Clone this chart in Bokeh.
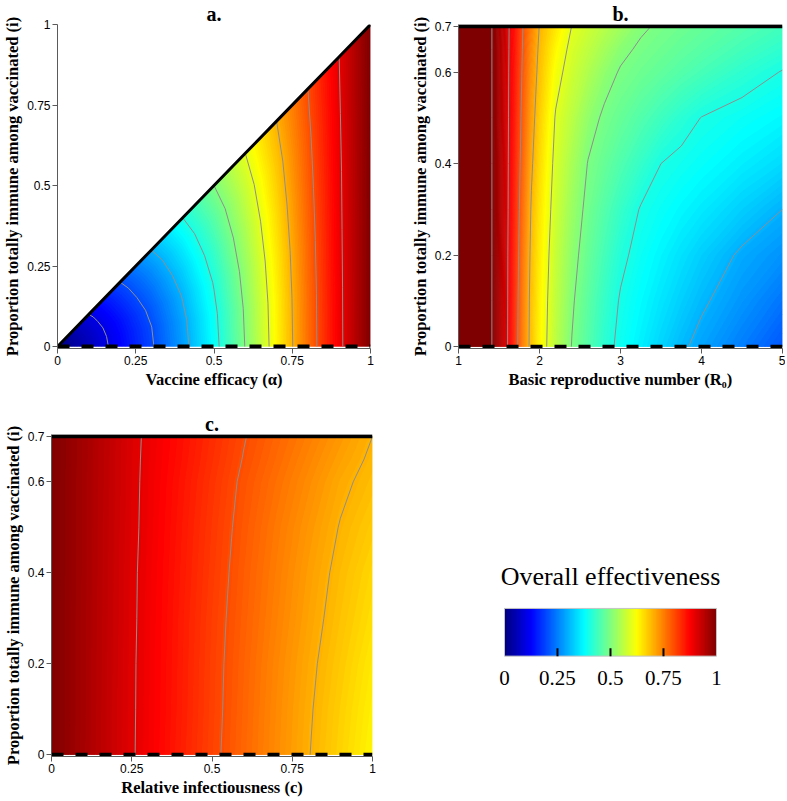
import numpy as np
from bokeh.plotting import figure
from bokeh.layouts import column, row
from bokeh.models import (LinearColorMapper, FixedTicker, Range1d, PrintfTickFormatter)
from bokeh.core.properties import value
from bokeh.palettes import interp_palette
from bokeh.embed import file_html
from bokeh.resources import INLINE

# ------------------------------------------------------------------ data
# Panel a: overall effectiveness vs vaccine efficacy (alpha) and i (i <= alpha).
# Rows are read along lines i = (i/alpha) * alpha.
alpha_a = [0.0, 0.1, 0.2, 0.3, 0.4, 0.5, 0.6, 0.7, 0.8, 0.9, 1.0]
i_over_alpha_a = [0.0, 0.2, 0.4, 0.6, 0.8, 1.0]
eff_a = [
    [0.0, 0.060, 0.124, 0.193, 0.280, 0.380, 0.502, 0.631, 0.765, 0.887, 1.0],
    [0.0, 0.062, 0.129, 0.199, 0.287, 0.387, 0.508, 0.635, 0.767, 0.888, 1.0],
    [0.0, 0.068, 0.139, 0.214, 0.304, 0.404, 0.522, 0.645, 0.772, 0.890, 1.0],
    [0.0, 0.077, 0.156, 0.238, 0.330, 0.430, 0.543, 0.660, 0.780, 0.892, 1.0],
    [0.0, 0.087, 0.176, 0.266, 0.362, 0.462, 0.569, 0.678, 0.789, 0.896, 1.0],
    [0.0, 0.100, 0.200, 0.300, 0.400, 0.500, 0.600, 0.700, 0.800, 0.900, 1.0],
]

# Panel b: overall effectiveness vs R0 and i
r0_b = [1.0, 1.41, 1.5, 1.6, 1.7, 1.8, 1.9, 2.0, 2.2, 2.4, 2.6, 2.8, 3.0, 3.25, 3.5, 3.75, 4.0, 4.5, 5.0]
i_b = [0.0, 0.1, 0.2, 0.3, 0.4, 0.5, 0.6, 0.65, 0.7]
eff_b = [
    [1.0, 1.0, 0.955, 0.905, 0.825, 0.746, 0.681, 0.633, 0.559, 0.498, 0.458, 0.418, 0.388, 0.361, 0.334, 0.308, 0.286, 0.248, 0.210],
    [1.0, 1.0, 0.955, 0.906, 0.828, 0.750, 0.683, 0.636, 0.564, 0.506, 0.466, 0.428, 0.396, 0.373, 0.351, 0.329, 0.307, 0.273, 0.240],
    [1.0, 1.0, 0.956, 0.907, 0.832, 0.756, 0.688, 0.642, 0.570, 0.516, 0.477, 0.443, 0.410, 0.385, 0.366, 0.347, 0.328, 0.293, 0.270],
    [1.0, 1.0, 0.957, 0.909, 0.838, 0.764, 0.695, 0.650, 0.578, 0.528, 0.487, 0.458, 0.429, 0.397, 0.383, 0.369, 0.356, 0.328, 0.300],
    [1.0, 1.0, 0.957, 0.910, 0.843, 0.773, 0.707, 0.661, 0.586, 0.541, 0.498, 0.476, 0.454, 0.427, 0.400, 0.390, 0.380, 0.360, 0.340],
    [1.0, 1.0, 0.958, 0.911, 0.848, 0.781, 0.719, 0.672, 0.596, 0.558, 0.519, 0.492, 0.476, 0.456, 0.436, 0.416, 0.399, 0.384, 0.370],
    [1.0, 1.0, 0.958, 0.912, 0.852, 0.789, 0.731, 0.685, 0.617, 0.578, 0.548, 0.518, 0.496, 0.483, 0.471, 0.458, 0.445, 0.420, 0.398],
    [1.0, 1.0, 0.958, 0.913, 0.855, 0.793, 0.738, 0.691, 0.630, 0.587, 0.562, 0.537, 0.511, 0.493, 0.483, 0.472, 0.462, 0.441, 0.420],
    [1.0, 1.0, 0.959, 0.914, 0.858, 0.797, 0.746, 0.698, 0.648, 0.599, 0.577, 0.555, 0.534, 0.507, 0.493, 0.484, 0.475, 0.458, 0.440],
]

# Panel c: overall effectiveness vs relative infectiousness c and i
c_c = [0.0, 0.1, 0.2, 0.3, 0.4, 0.5, 0.6, 0.7, 0.8, 0.9, 1.0]
i_c = [0.0, 0.1, 0.2, 0.3, 0.4, 0.5, 0.6, 0.65, 0.7]
eff_c = [
    [1.0, 0.961, 0.923, 0.885, 0.847, 0.810, 0.774, 0.738, 0.702, 0.667, 0.632],
    [1.0, 0.962, 0.923, 0.886, 0.849, 0.812, 0.776, 0.740, 0.705, 0.671, 0.638],
    [1.0, 0.962, 0.924, 0.886, 0.850, 0.813, 0.778, 0.743, 0.709, 0.677, 0.645],
    [1.0, 0.962, 0.925, 0.887, 0.851, 0.815, 0.781, 0.748, 0.715, 0.684, 0.655],
    [1.0, 0.963, 0.925, 0.888, 0.853, 0.818, 0.784, 0.752, 0.720, 0.690, 0.663],
    [1.0, 0.963, 0.926, 0.890, 0.855, 0.821, 0.788, 0.757, 0.727, 0.698, 0.675],
    [1.0, 0.963, 0.927, 0.891, 0.858, 0.825, 0.793, 0.765, 0.737, 0.708, 0.688],
    [1.0, 0.964, 0.927, 0.892, 0.861, 0.829, 0.798, 0.771, 0.744, 0.717, 0.694],
    [1.0, 0.964, 0.928, 0.893, 0.863, 0.832, 0.802, 0.776, 0.751, 0.725, 0.700],
]

levels_a = [0.1, 0.2, 0.3, 0.4, 0.5, 0.6, 0.7, 0.8, 0.9]
levels_b = [0.3, 0.4, 0.5, 0.6, 0.7, 0.8, 0.9, 0.999]
levels_c = [0.7, 0.8, 0.9]

ticks_unit = [0, 0.25, 0.5, 0.75, 1]
ticks_i07 = [0, 0.2, 0.4, 0.6, 0.7]
ticks_r0 = [1, 2, 3, 4, 5]
cbar_ticks = [0, 0.25, 0.5, 0.75, 1]
cbar_inner_ticks = [0.25, 0.5, 0.75]
cbar_title = "Overall effectiveness"
cbar_ramp = np.linspace(0.0, 1.0, 256)   # colour-scale ramp of the legend

# ------------------------------------------------------------------ style
JET = ["#00007F", "#0000FF", "#007FFF", "#00FFFF", "#7FFF7F",
       "#FFFF00", "#FF7F00", "#FF0000", "#7F0000"]
NBANDS = 160
# two staggered sets of colour bands (the second hides the seams of the first)
step = 1.0 / NBANDS
levels_fill_1 = [k * step for k in range(NBANDS + 1)]
levels_fill_1[0] = -0.001
levels_fill_1[-1] = 1.001
pal_fill_1 = list(interp_palette(JET, NBANDS))
levels_fill_2 = [-0.001] + [(k + 0.5) * step for k in range(NBANDS)] + [1.001]
pal_fill_2 = list(interp_palette(JET, NBANDS + 1))
mapper = LinearColorMapper(palette=list(interp_palette(JET, 256)), low=0, high=1)

SERIF = "Liberation Serif"
SANS = "Liberation Sans"
AXIS_GREY = "#5a5a5a"
CONTOUR_GREY = "#8f8f8f"


def make_panel(width, height, xr, yr, bl, br, bt, bb, title):
    p = figure(width=width, height=height, x_range=Range1d(*xr), y_range=Range1d(*yr),
               output_backend="svg", toolbar_location=None,
               min_border_left=bl, min_border_right=br,
               min_border_top=bt, min_border_bottom=bb)
    p.outline_line_color = None
    p.xgrid.visible = False
    p.ygrid.visible = False
    p.title.text = title
    p.title.align = "center"
    p.title.text_font = SERIF
    p.title.text_font_style = "bold"
    p.title.text_font_size = "20px"
    p.title.text_color = "black"
    p.title.standoff = 0
    return p


def style_axes(p, xticks, yticks, xlabel, ylabel):
    p.xaxis.ticker = FixedTicker(ticks=xticks)
    p.yaxis.ticker = FixedTicker(ticks=yticks)
    p.xaxis.axis_label = xlabel
    p.yaxis.axis_label = ylabel
    for ax in list(p.xaxis) + list(p.yaxis):
        ax.formatter = PrintfTickFormatter(format="%g")
        ax.axis_line_color = AXIS_GREY
        ax.major_tick_line_color = AXIS_GREY
        ax.minor_tick_line_color = None
        ax.major_tick_out = 5
        ax.major_tick_in = 0
        ax.major_label_text_font = SANS
        ax.major_label_text_font_size = "12px"
        ax.major_label_text_color = "black"
        ax.major_label_standoff = 2
        ax.axis_label_text_font = SERIF
        ax.axis_label_text_font_style = "bold"
        ax.axis_label_text_font_size = "16.5px"
        ax.axis_label_text_color = "black"
        ax.axis_label_standoff = 2


def heat(p, x, y, z, line_levels):
    for lv, pal in ((levels_fill_1, pal_fill_1), (levels_fill_2, pal_fill_2)):
        r = p.contour(x, y, z, lv, fill_color=pal)
        r.fill_renderer.glyph.line_color = None
    p.contour(x, y, z, line_levels, line_color=CONTOUR_GREY, line_width=1)


# ------------------------------------------------------------------ panel a
pa = make_panel(390, 392, (0, 1), (-0.006, 1.0), 52, 20, 10, 44, "a.")
A = np.array([alpha_a for _ in i_over_alpha_a], dtype=float)
I = np.array([[f * a for a in alpha_a] for f in i_over_alpha_a], dtype=float)
heat(pa, A, I, np.array(eff_a), levels_a)
pa.line(alpha_a, [a * i_over_alpha_a[-1] for a in alpha_a], line_color="black", line_width=3)
pa.line([alpha_a[0], alpha_a[-1]], [i_over_alpha_a[0]] * 2, line_color="black",
        line_width=4, line_dash="12 12")
style_axes(pa, ticks_unit, ticks_unit, "Vaccine efficacy (α)",
           "Proportion totally immune among vaccinated (i)")

# ------------------------------------------------------------------ panel b
pb = make_panel(395, 392, (1, 5), (-0.004, 0.704), 68, 3, 10, 44, "b.")
heat(pb, np.array(r0_b), np.array(i_b), np.array(eff_b), levels_b)
pb.line([r0_b[0], r0_b[-1]], [i_b[-1]] * 2, line_color="black", line_width=4)
pb.line([r0_b[0], r0_b[-1]], [i_b[0]] * 2, line_color="black", line_width=4, line_dash="12 12")
style_axes(pb, ticks_r0, ticks_i07, "Basic reproductive number (R₀)",
           "Proportion totally immune among vaccinated (i)")

# ------------------------------------------------------------------ panel c
pc = make_panel(390, 407, (0, 1), (-0.004, 0.704), 48, 18, 42, 41, "c.")
heat(pc, np.array(c_c), np.array(i_c), np.array(eff_c), levels_c)
pc.line([c_c[0], c_c[-1]], [i_c[-1]] * 2, line_color="black", line_width=4)
pc.line([c_c[0], c_c[-1]], [i_c[0]] * 2, line_color="black", line_width=4, line_dash="12 12")
style_axes(pc, ticks_unit, ticks_i07, "Relative infectiousness (c)",
           "Proportion totally immune among vaccinated (i)")

# ------------------------------------------------------------------ colour bar
# The frame of this figure is aligned with panel c; ranges are set so that the
# bar occupies 0..1 in both directions.
pl = figure(width=395, height=407, x_range=Range1d(-0.5377, 1.3255),
            y_range=Range1d(-2.104, 4.646), output_backend="svg", toolbar_location=None,
            x_axis_type=None, y_axis_type=None,
            min_border_left=0, min_border_right=0, min_border_top=42, min_border_bottom=41)
pl.outline_line_color = None
pl.xgrid.visible = False
pl.ygrid.visible = False
pl.image(image=[cbar_ramp[None, :]], x=cbar_ticks[0], y=0, dw=cbar_ticks[-1] - cbar_ticks[0], dh=1,
         color_mapper=mapper)
pl.quad(left=[cbar_ticks[0]], right=[cbar_ticks[-1]], bottom=[0], top=[1],
        fill_color=None, line_color="#c4c4c4", line_width=1)
pl.segment(x0=cbar_inner_ticks, y0=[0] * len(cbar_inner_ticks),
           x1=cbar_inner_ticks, y1=[8.0 / 48.0] * len(cbar_inner_ticks),
           line_color="black", line_width=2)
pl.text(x=cbar_ticks, y=[-0.46] * len(cbar_ticks), text=[f"{t:g}" for t in cbar_ticks],
        text_align="center", text_baseline="middle", text_font=value(SERIF),
        text_font_size="21px", text_color="black")
pl.text(x=[0.5], y=[1.67], text=[cbar_title], text_align="center",
        text_baseline="alphabetic", text_font=value(SERIF), text_font_size="26px",
        text_color="black")

layout = column(row(pa, pb), row(pc, pl))
open("out.html", "w").write(file_html(layout, INLINE))
